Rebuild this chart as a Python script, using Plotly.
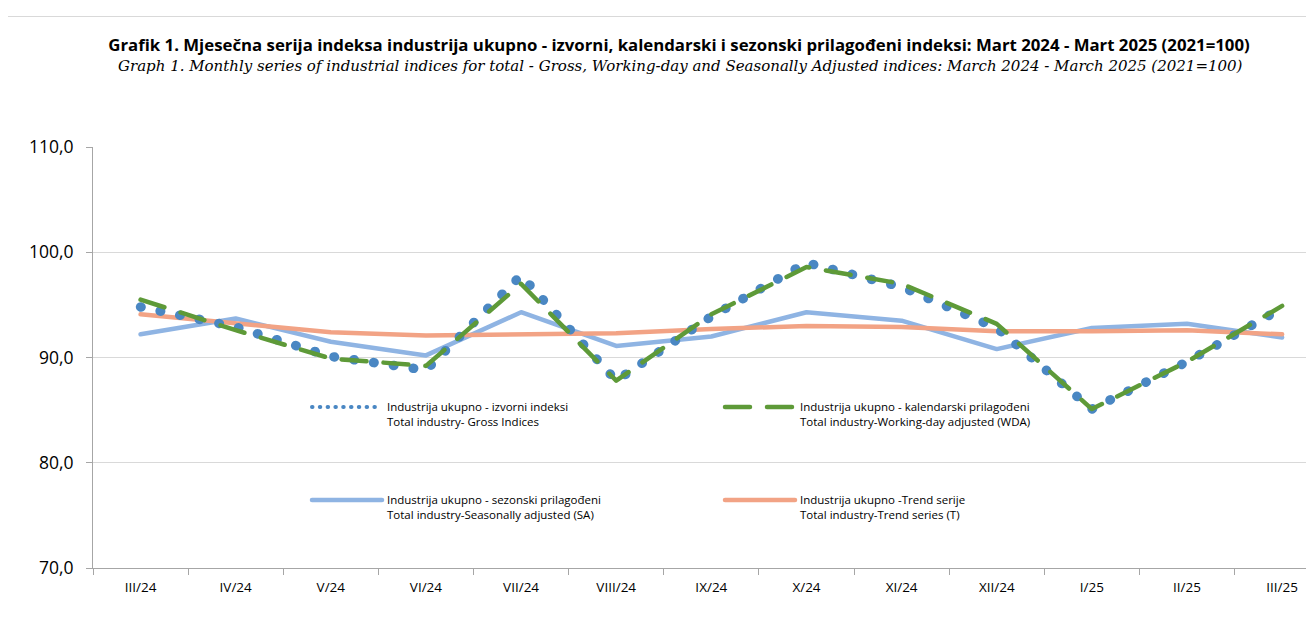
import plotly.graph_objects as go

months = ["III/24", "IV/24", "V/24", "VI/24", "VII/24", "VIII/24", "IX/24",
          "X/24", "XI/24", "XII/24", "I/25", "II/25", "III/25"]

gross = [94.8, 92.9, 90.1, 88.8, 97.8, 87.8, 93.9, 99.0, 96.7, 92.8, 85.1, 89.6, 94.7]
wda = [95.5, 92.6, 89.9, 89.2, 97.0, 87.8, 94.1, 98.6, 97.0, 93.2, 85.1, 89.6, 94.9]
sa = [92.2, 93.7, 91.5, 90.2, 94.3, 91.1, 92.0, 94.3, 93.5, 90.8, 92.8, 93.2, 91.9]
trend = [94.1, 93.2, 92.4, 92.1, 92.2, 92.3, 92.7, 93.0, 92.9, 92.5, 92.5, 92.6, 92.2]

name_gross = "Industrija ukupno - izvorni indeksi<br>Total industry- Gross Indices"
name_wda = "Industrija ukupno - kalendarski prilagođeni<br>Total industry-Working-day adjusted (WDA)"
name_sa = "Industrija ukupno - sezonski prilagođeni<br>Total industry-Seasonally adjusted (SA)"
name_trend = "Industrija ukupno -Trend serije<br>Total industry-Trend series (T)"

title_main = "Grafik 1. Mjesečna serija indeksa industrija ukupno - izvorni, kalendarski i sezonski prilagođeni indeksi: Mart 2024 - Mart 2025 (2021=100)"
title_sub = "Graph 1. Monthly series of industrial indices for total - Gross, Working-day and Seasonally Adjusted indices: March 2024 - March 2025 (2021=100)"

C_GROSS = "#4A87C3"
C_WDA = "#5E9A38"
C_SA = "#8FB4E3"
C_TREND = "#F2A385"

OFF = 8                      # default page body margin
W, H = 1314 - OFF, 619 - OFF
# plot area in page pixels
PL, PR, PT, PB = 93, 1314, 147, 568
L, R, T, B = PL - OFF, PR - OFF, PT - OFF, PB - OFF


def px_x(p):
    return (p - OFF - L) / (R - L)


def px_y(p):
    return (B - (p - OFF)) / (B - T)


fig = go.Figure()
fig.add_trace(go.Scatter(x=months, y=sa, mode="lines", name=name_sa,
                         line=dict(color=C_SA, width=4.5), legend="legend3"))
fig.add_trace(go.Scatter(x=months, y=trend, mode="lines", name=name_trend,
                         line=dict(color=C_TREND, width=4.5), legend="legend4"))
fig.add_trace(go.Scatter(x=months, y=gross, mode="lines", name=name_gross,
                         line=dict(color=C_GROSS, width=9.5, dash="0.5px,19.5px"),
                         legend="legend"))
fig.add_trace(go.Scatter(x=months, y=wda, mode="lines", name=name_wda,
                         line=dict(color=C_WDA, width=4.5, dash="25px,17px"),
                         legend="legend2"))

leg_common = dict(font=dict(family="Open Sans, sans-serif", size=11.5, color="#000000"),
                  bgcolor="rgba(0,0,0,0)", valign="top", xanchor="left", yanchor="top",
                  itemwidth=70, tracegroupgap=0)

fig.update_layout(
    width=W, height=H,
    margin=dict(l=L, r=W - R, t=T, b=H - B),
    paper_bgcolor="white", plot_bgcolor="white",
    separators=",.",
    font=dict(family="Open Sans, sans-serif", color="#000000"),
    title=dict(
        text="<b>" + title_main + "</b>",
        font=dict(family="Open Sans, sans-serif", size=16.8, color="#000000"),
        x=(679 - OFF) / W, xanchor="center", xref="container",
        y=1 - (45 - OFF) / H, yanchor="middle", yref="container",
    ),
    annotations=[
        dict(text="<i>" + title_sub + "</i>", xref="paper", yref="paper",
             x=px_x(680), y=px_y(66), xanchor="center", yanchor="middle",
             showarrow=False,
             font=dict(family="DejaVu Serif, serif", size=15, color="#000000")),
    ],
    showlegend=True,
    legend=dict(x=px_x(307), y=px_y(393), **leg_common),
    legend2=dict(x=px_x(720), y=px_y(393), **leg_common),
    legend3=dict(x=px_x(307), y=px_y(486), **leg_common),
    legend4=dict(x=px_x(720), y=px_y(486), **leg_common),
    xaxis=dict(
        type="category", range=[-0.5, 12.335],
        showgrid=False, showline=True, linecolor="#A6A6A6", linewidth=1,
        ticks="outside", ticklen=6, tickcolor="#A6A6A6", tickson="boundaries",
        tickfont=dict(family="Open Sans, sans-serif", size=13.5, color="#000000"),
        ticklabelstandoff=7,
        zeroline=False, fixedrange=True,
    ),
    yaxis=dict(
        range=[70, 110], tickvals=[70, 80, 90, 100, 110], tickformat=".1f",
        showgrid=True, gridcolor="#D9D9D9", gridwidth=1,
        showline=True, linecolor="#A6A6A6", linewidth=1,
        ticks="outside", ticklen=6, tickcolor="#A6A6A6",
        tickfont=dict(family="Open Sans, sans-serif", size=17.5, color="#000000"),
        ticklabelstandoff=9,
        zeroline=False, fixedrange=True,
    ),
    shapes=[
        dict(type="line", xref="paper", yref="paper",
             x0=px_x(5.5), x1=px_x(1320), y0=px_y(16.5), y1=px_y(16.5),
             line=dict(color="#D9D9D9", width=1)),
        dict(type="line", xref="paper", yref="paper",
             x0=px_x(5.5), x1=px_x(5.5), y0=px_y(16.5), y1=px_y(625),
             line=dict(color="#D9D9D9", width=1)),
    ],
)

round_caps = """
document.querySelectorAll('path.js-line').forEach(function(p){
  p.style.strokeLinecap = 'round';
  p.style.strokeLinejoin = 'round';
});
document.querySelectorAll('.legendlines path.js-line').forEach(function(p){
  if ((p.style.strokeDasharray || '').indexOf('19.5') >= 0) {
    p.style.strokeWidth = '4px';
    p.style.strokeDasharray = '0.5px,7.3px';
  }
});
"""

fig.write_html("out.html", config={"displayModeBar": False}, post_script=round_caps)
